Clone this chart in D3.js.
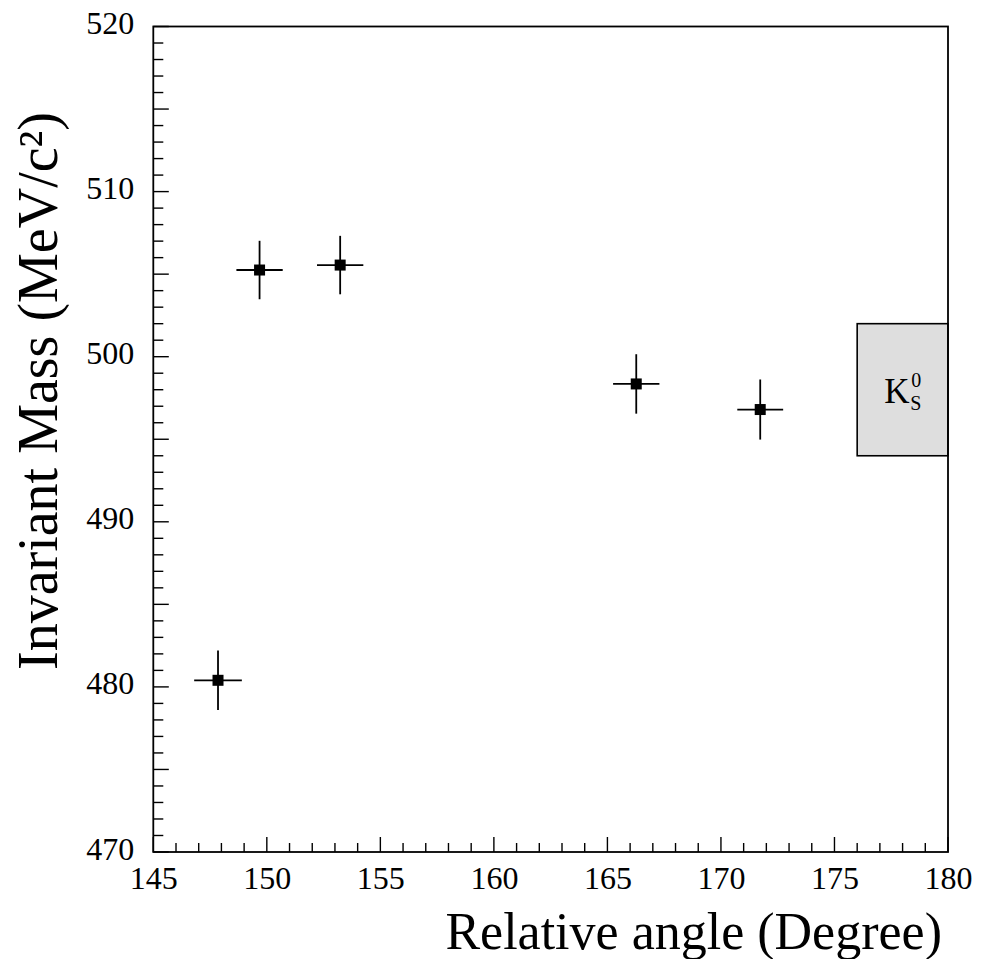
<!DOCTYPE html>
<html>
<head>
<meta charset="utf-8">
<script src="https://cdn.jsdelivr.net/npm/d3@7"></script>
<style>
html,body{margin:0;padding:0;background:#fff;}
svg{display:block;}
text{font-family:"Liberation Serif","Times New Roman",serif;fill:#000;}
</style>
</head>
<body>
<script>
// ---- data ----
const angles   = [147.85, 149.68, 153.23, 166.27, 171.73];
const masses   = [480.4, 505.25, 505.55, 498.35, 496.8];
const angleErr = [1.05, 1.02, 1.02, 1.02, 1.01];
const massErr  = [1.8, 1.77, 1.77, 1.8, 1.82];
const xTicks = [145, 150, 155, 160, 165, 170, 175, 180];
const yTicks = [470, 480, 490, 500, 510, 520];
const xDomain = [145, 180];
const yDomain = [470, 520];
const bandLabel = {x0: 176, x1: 180, y0: 494, y1: 502};

const W = 984, H = 959;
const L = 153.3, R = 948, T = 26.5, B = 852;

const svg = d3.select("body").append("svg").attr("width", W).attr("height", H);
const x = d3.scaleLinear().domain(xDomain).range([L, R]);
const y = d3.scaleLinear().domain(yDomain).range([B, T]);

// K0S band
svg.append("rect")
  .attr("x", x(bandLabel.x0)).attr("y", y(bandLabel.y1))
  .attr("width", x(bandLabel.x1) - x(bandLabel.x0))
  .attr("height", y(bandLabel.y0) - y(bandLabel.y1))
  .attr("fill", "#dedede").attr("stroke", "#000").attr("stroke-width", 1.6);

// axes
const xMinor = d3.range(145, 181, 1);
const yMinor = d3.range(470, 521, 1);
const xAxis = d3.axisBottom(x).tickValues(xTicks).tickSize(0).tickPadding(14).tickFormat(d3.format("d"));
const gx = svg.append("g").attr("transform", `translate(0,${B})`).call(xAxis);
gx.select(".domain").remove();
gx.attr("font-family", null);
gx.selectAll("text").attr("font-size", 32).attr("dy", "0.71em");
const yAxis = d3.axisLeft(y).tickValues(yTicks).tickSize(0).tickPadding(19).tickFormat(d3.format("d"));
const gy = svg.append("g").attr("transform", `translate(${L},0)`).call(yAxis);
gy.select(".domain").remove();
gy.attr("font-family", null);
gy.selectAll("text").attr("font-size", 32).attr("dy", "0.22em");

// ticks (inward)
svg.append("g").selectAll("line").data(xMinor).join("line")
  .attr("x1", d => x(d)).attr("x2", d => x(d))
  .attr("y1", B).attr("y2", d => B - (d % 5 === 0 ? 15 : 9))
  .attr("stroke", "#000").attr("stroke-width", 1.4);
svg.append("g").selectAll("line").data(yMinor).join("line")
  .attr("y1", d => y(d)).attr("y2", d => y(d))
  .attr("x1", L).attr("x2", d => L + (d % 5 === 0 ? 15.5 : 10))
  .attr("stroke", "#000").attr("stroke-width", 1.4);

// frame
svg.append("rect").attr("x", L).attr("y", T).attr("width", R - L).attr("height", B - T)
  .attr("fill", "none").attr("stroke", "#000").attr("stroke-width", 1.8);

// data points
const pts = angles.map((a, i) => ({a, m: masses[i], ea: angleErr[i], em: massErr[i]}));
const gp = svg.append("g");
gp.selectAll("line.h").data(pts).join("line").attr("class", "h")
  .attr("x1", d => x(d.a - d.ea)).attr("x2", d => x(d.a + d.ea))
  .attr("y1", d => y(d.m)).attr("y2", d => y(d.m))
  .attr("stroke", "#000").attr("stroke-width", 1.8);
gp.selectAll("line.v").data(pts).join("line").attr("class", "v")
  .attr("x1", d => x(d.a)).attr("x2", d => x(d.a))
  .attr("y1", d => y(d.m - d.em)).attr("y2", d => y(d.m + d.em))
  .attr("stroke", "#000").attr("stroke-width", 1.8);
gp.selectAll("rect").data(pts).join("rect")
  .attr("x", d => x(d.a) - 5.5).attr("y", d => y(d.m) - 5.5)
  .attr("width", 11).attr("height", 11).attr("fill", "#000");

// K0S label (K, subscript S, superscript 0)
const bx = x(bandLabel.x0), by = (y(bandLabel.y0) + y(bandLabel.y1)) / 2;
svg.append("text").attr("x", bx + 27).attr("y", by + 13.5).attr("font-size", 35).text("K");
svg.append("text").attr("x", bx + 53).attr("y", by + 20).attr("font-size", 20).text("S");
svg.append("text").attr("x", bx + 54).attr("y", by - 2.5).attr("font-size", 20).text("0");

// axis titles
svg.append("text").attr("x", 942).attr("y", 949).attr("text-anchor", "end")
  .attr("font-size", 52).text("Relative angle (Degree)");
svg.append("text").attr("transform", "translate(57,112) rotate(-90)").attr("text-anchor", "end")
  .attr("font-size", 56).text("Invariant Mass (MeV/c²)");
</script>
</body>
</html>
